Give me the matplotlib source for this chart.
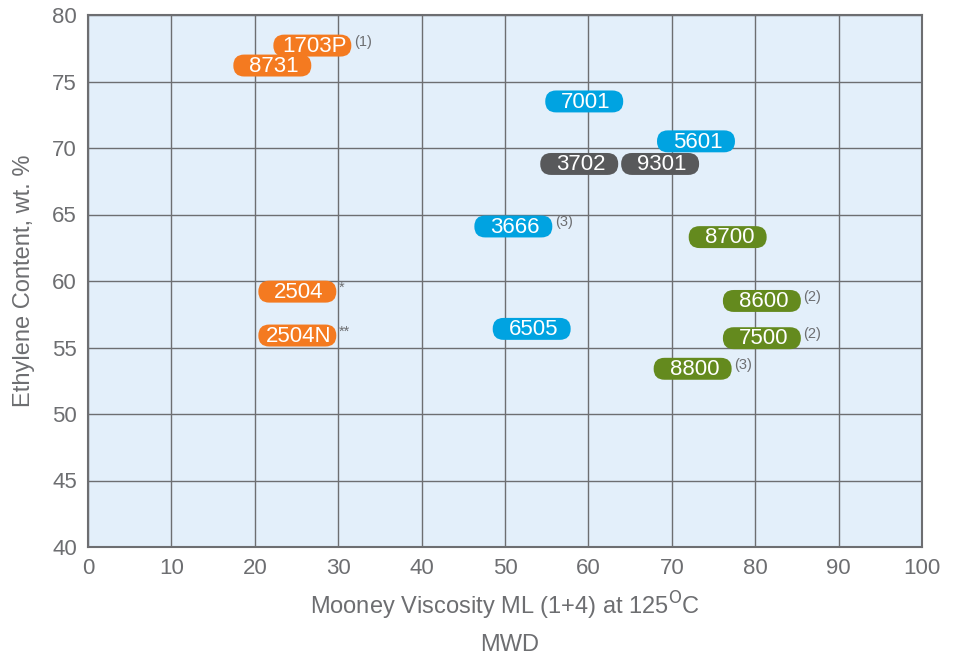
import matplotlib
matplotlib.use('Agg')
import matplotlib.pyplot as plt
from matplotlib.patches import FancyBboxPatch

# grade labels with their approximate position (Mooney, ethylene %)
grades = ['1703P', '8731', '7001', '5601', '3702', '9301', '3666',
          '8700', '2504', '8600', '2504N', '6505', '7500', '8800']
mooney = [26.9, 22.1, 59.5, 72.9, 58.9, 68.6, 51.0,
          76.7, 25.1, 80.8, 25.1, 53.2, 80.8, 72.5]
ethylene = [77.7, 76.2, 73.5, 70.5, 68.8, 68.8, 64.1,
            63.3, 59.2, 58.5, 55.9, 56.4, 55.7, 53.4]
groups = ['orange', 'orange', 'blue', 'blue', 'grey', 'grey', 'blue',
          'green', 'orange', 'green', 'orange', 'blue', 'green', 'green']
notes = ['(1)', '', '', '', '', '', '(3)',
         '', '*', '(2)', '**', '', '(2)', '(3)']

colors = {'orange': '#F47A20', 'blue': '#00A3E1',
          'grey': '#58595B', 'green': '#648A1E'}
grey_txt = '#6D6E71'

plt.rcParams['font.family'] = ['Liberation Sans', 'DejaVu Sans']

fig = plt.figure(figsize=(9.55, 6.57), dpi=100)
ax = fig.add_axes([88 / 955, 1 - 547 / 657, 834 / 955, 532 / 657])
ax.set_facecolor('#E3EFFA')
ax.set_xlim(0, 100)
ax.set_ylim(40, 80)
ax.set_xticks(range(0, 101, 10))
ax.set_yticks(range(40, 81, 5))
ax.grid(True, color='#6D6E71', linewidth=1.0)
ax.set_axisbelow(True)
for s in ax.spines.values():
    s.set_color('#6D6E71')
    s.set_linewidth(1.5)
ax.tick_params(length=0, labelsize=16, labelcolor=grey_txt, pad=8)

# box size in data units (about 78 x 22 px)
bw, bh = 9.35, 1.65
for g, x, y, grp, n in zip(grades, mooney, ethylene, groups, notes):
    box = FancyBboxPatch((x - bw / 2, y - bh / 2), bw, bh,
                         boxstyle='round,pad=0,rounding_size=1.3',
                         mutation_aspect=0.63,
                         facecolor=colors[grp], edgecolor='none', zorder=3)
    ax.add_patch(box)
    ax.text(x + 0.2, y - 0.05, g, color='white', fontsize=16, ha='center', va='center', zorder=4)
    if n:
        ax.text(x + bw / 2 + 0.3, y + 0.3, n, color=grey_txt, fontsize=10.5,
                ha='left', va='center', zorder=4)

ax.set_ylabel('Ethylene Content, wt. %', fontsize=17, color=grey_txt, labelpad=12)
ax.set_xlabel('Mooney Viscosity ML (1+4) at 125$^{\\mathrm{O}}$C', fontsize=17,
              color=grey_txt, labelpad=8)
fig.text(510 / 955, 1 - 645 / 657, 'MWD', fontsize=17, color=grey_txt,
         ha='center', va='center')

fig.savefig('out.png', dpi=100)
